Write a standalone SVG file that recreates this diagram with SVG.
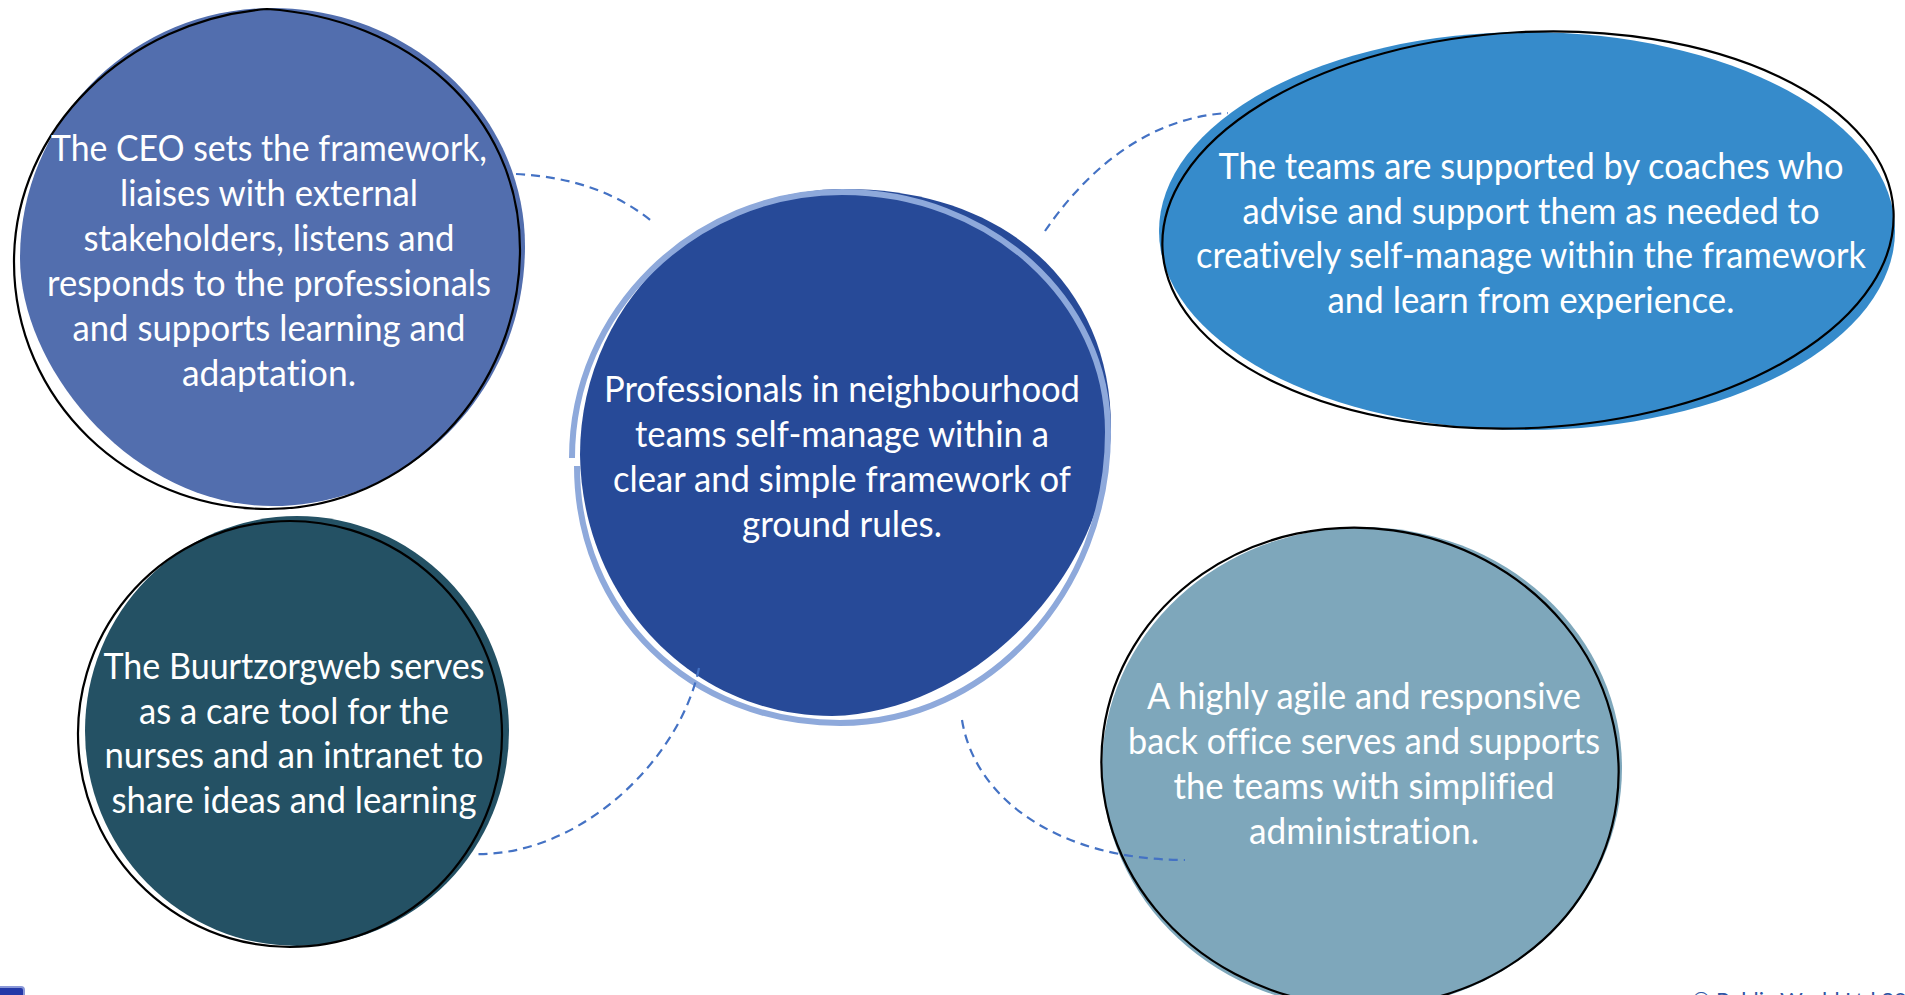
<svg xmlns="http://www.w3.org/2000/svg" width="1905" height="995" viewBox="0 0 1905 995">
  <style>
    .label { font-family: Lato, "Open Sans", "Liberation Sans", sans-serif; font-size: 37px; fill: #ffffff; text-anchor: middle; font-variant-ligatures: none; font-feature-settings: "liga" 0, "clig" 0; }
    .sketch { fill: none; stroke: #000000; stroke-width: 2.2; }
    .link { fill: none; stroke: #4472C4; stroke-width: 2.2; stroke-dasharray: 9 6; }
  </style>
  <rect width="1905" height="995" fill="#ffffff"/>

  <!-- CEO -->
  <g id="node-ceo">
    <path d="M 20 258 C 20 120 133 8 272 8 C 412 8 525 115 525 246 C 525 390 412 506 272 506 C 133 506 20 369 20 258 Z" fill="#526EAE"/>
    <path class="sketch" d="M 14 262 C 14 128 128 20 267 9 C 406 18 520 112 520 250 C 520 390 408 509 268 509 C 128 509 14 400 14 262 Z"/>
    <text class="label" x="269" y="161" textLength="436" lengthAdjust="spacingAndGlyphs">The CEO sets the framework,</text>
    <text class="label" x="269" y="206" textLength="298" lengthAdjust="spacingAndGlyphs">liaises with external</text>
    <text class="label" x="269" y="251" textLength="371" lengthAdjust="spacingAndGlyphs">stakeholders, listens and</text>
    <text class="label" x="269" y="296" textLength="444" lengthAdjust="spacingAndGlyphs">responds to the professionals</text>
    <text class="label" x="269" y="341" textLength="393" lengthAdjust="spacingAndGlyphs">and supports learning and</text>
    <text class="label" x="269" y="386" textLength="174" lengthAdjust="spacingAndGlyphs">adaptation.</text>
  </g>

  <!-- Central team node -->
  <g id="node-teams">
    <path d="M 580 455 C 580 308 699 189 845 189 C 1005 189 1111 285 1111 428 C 1108 575 975 712 832 716 C 693 716 582 600 580 455 Z" fill="#274A98"/>
    <path d="M 572 458 C 572 311 694 192 842 192 C 990 192 1108 300 1108 432 C 1108 592 988 723 840 723 C 690 723 577 613 577 466" fill="none" stroke="#8EA9DB" stroke-width="6"/>
    <text class="label" x="842" y="402" textLength="476" lengthAdjust="spacingAndGlyphs">Professionals in neighbourhood</text>
    <text class="label" x="842" y="447" textLength="414" lengthAdjust="spacingAndGlyphs">teams self-manage within a</text>
    <text class="label" x="842" y="492" textLength="458" lengthAdjust="spacingAndGlyphs">clear and simple framework of</text>
    <text class="label" x="842" y="537" textLength="200" lengthAdjust="spacingAndGlyphs">ground rules.</text>
  </g>

  <!-- Coaches -->
  <g id="node-coaches">
    <ellipse cx="1527" cy="231" rx="368" ry="199" fill="#368BCB"/>
    <ellipse class="sketch" cx="1528" cy="230" rx="366" ry="198" transform="rotate(-3 1528 230)"/>
    <text class="label" x="1531" y="179" textLength="625" lengthAdjust="spacingAndGlyphs">The teams are supported by coaches who</text>
    <text class="label" x="1531" y="224" textLength="577" lengthAdjust="spacingAndGlyphs">advise and support them as needed to</text>
    <text class="label" x="1531" y="268" textLength="670" lengthAdjust="spacingAndGlyphs">creatively self-manage within the framework</text>
    <text class="label" x="1531" y="313" textLength="407" lengthAdjust="spacingAndGlyphs">and learn from experience.</text>
  </g>

  <!-- Buurtzorgweb -->
  <g id="node-web">
    <ellipse cx="297" cy="731" rx="212" ry="215" fill="#245164"/>
    <ellipse class="sketch" cx="290" cy="734" rx="212" ry="213" transform="rotate(-5 290 734)"/>
    <text class="label" x="294" y="679" textLength="381" lengthAdjust="spacingAndGlyphs">The Buurtzorgweb serves</text>
    <text class="label" x="294" y="724" textLength="310" lengthAdjust="spacingAndGlyphs">as a care tool for the</text>
    <text class="label" x="294" y="768" textLength="379" lengthAdjust="spacingAndGlyphs">nurses and an intranet to</text>
    <text class="label" x="294" y="813" textLength="365" lengthAdjust="spacingAndGlyphs">share ideas and learning</text>
  </g>

  <!-- Back office -->
  <g id="node-backoffice">
    <ellipse cx="1362" cy="768" rx="260" ry="241" fill="#7EA7BB"/>
    <ellipse class="sketch" cx="1360" cy="767" rx="259" ry="239" transform="rotate(8 1360 767)"/>
    <text class="label" x="1364" y="709" textLength="434" lengthAdjust="spacingAndGlyphs">A highly agile and responsive</text>
    <text class="label" x="1364" y="754" textLength="472" lengthAdjust="spacingAndGlyphs">back office serves and supports</text>
    <text class="label" x="1364" y="799" textLength="381" lengthAdjust="spacingAndGlyphs">the teams with simplified</text>
    <text class="label" x="1364" y="844" textLength="230" lengthAdjust="spacingAndGlyphs">administration.</text>
  </g>

  <!-- Dashed links between the centre and each surrounding node -->
  <g id="connectors">
    <path class="link" d="M 516 174 Q 600 178 654 223"/>
    <path class="link" d="M 1045 231 C 1080 180 1140 118 1228 113"/>
    <path class="link" d="M 699 668 C 680 760 580 856 476 854"/>
    <path class="link" d="M 962 720 C 975 800 1060 860 1185 860"/>
  </g>

  <!-- Footer fragments along the bottom edge -->
  <g id="footer">
    <rect x="-4" y="987" width="28" height="20" rx="3" fill="#2338A8" stroke="#8A98D8" stroke-width="2"/>
    <text x="1692" y="1008" font-family="Lato, 'Liberation Sans', sans-serif" font-size="22" fill="#2F55A4">© Public World Ltd 202</text>
  </g>
</svg>
